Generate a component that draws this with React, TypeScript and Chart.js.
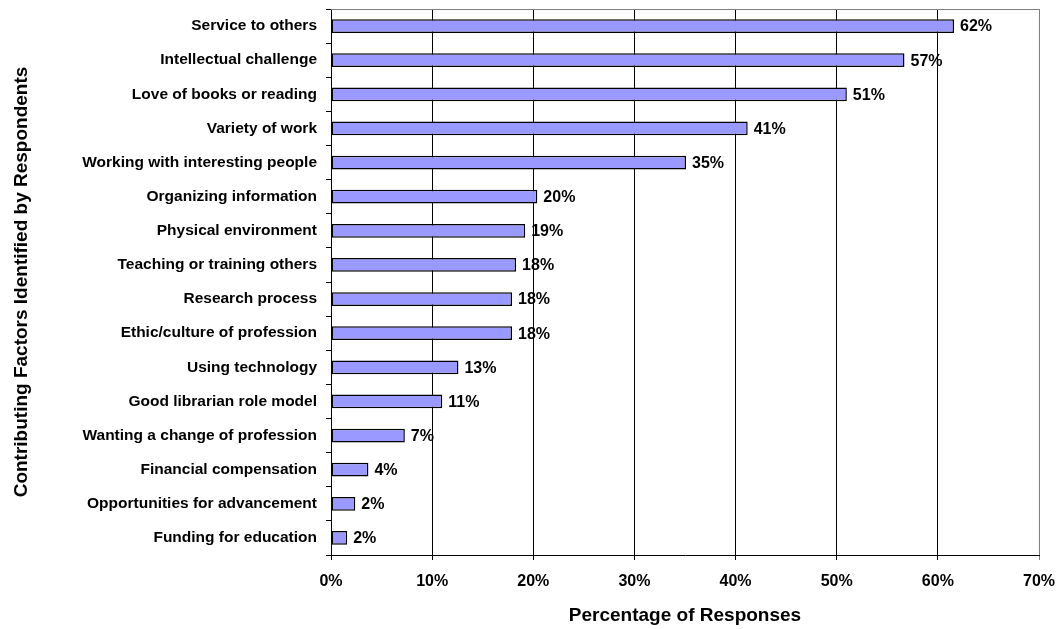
import React, { useEffect, useRef } from "react";
import { Chart, registerables } from "chart.js";

Chart.register(...registerables);

const factors = [
  "Service to others",
  "Intellectual challenge",
  "Love of books or reading",
  "Variety of work",
  "Working with interesting people",
  "Organizing information",
  "Physical environment",
  "Teaching or training others",
  "Research process",
  "Ethic/culture of profession",
  "Using technology",
  "Good librarian role model",
  "Wanting a change of profession",
  "Financial compensation",
  "Opportunities for advancement",
  "Funding for education",
];

const percentages = [61.6, 56.7, 51.0, 41.2, 35.1, 20.4, 19.2, 18.3, 17.9, 17.9, 12.6, 11.0, 7.3, 3.7, 2.4, 1.6];

const valueLabels = ["62%", "57%", "51%", "41%", "35%", "20%", "19%", "18%", "18%", "18%", "13%", "11%", "7%", "4%", "2%", "2%"];

const xMin = 0;
const xMax = 70;
const xStep = 10;

const xAxisTitle = "Percentage of Responses";
const yAxisTitle = "Contributing Factors Identified by Respondents";

const FONT = "'Liberation Sans', Arial, Helvetica, sans-serif";

const decorPlugin = {
  id: "decor",
  beforeDatasetsDraw(chart: any) {
    const { ctx, chartArea } = chart;
    ctx.save();
    ctx.strokeStyle = "#808080";
    ctx.lineWidth = 1;
    ctx.beginPath();
    ctx.moveTo(Math.round(chartArea.left), Math.round(chartArea.top) + 0.5);
    ctx.lineTo(Math.round(chartArea.right), Math.round(chartArea.top) + 0.5);
    ctx.stroke();
    ctx.restore();
  },
  afterDatasetsDraw(chart: any) {
    const { ctx } = chart;
    const meta = chart.getDatasetMeta(0);
    ctx.save();
    ctx.font = `bold 16px ${FONT}`;
    ctx.fillStyle = "#000";
    ctx.textAlign = "left";
    ctx.textBaseline = "middle";
    meta.data.forEach((bar: any, i: number) => {
      ctx.fillText(valueLabels[i], bar.x + 6, bar.y + 1);
    });
    ctx.restore();
  },
};

export default function App() {
  const canvasRef = useRef<HTMLCanvasElement | null>(null);

  useEffect(() => {
    if (!canvasRef.current) return;
    const chart = new Chart(canvasRef.current, {
      type: "bar",
      data: {
        labels: factors,
        datasets: [
          {
            data: percentages,
            backgroundColor: "#9999FF",
            borderColor: "#000000",
            borderWidth: 1.5,
            borderSkipped: false,
            barPercentage: 0.4,
            categoryPercentage: 1,
          },
        ],
      },
      options: {
        indexAxis: "y",
        animation: false,
        responsive: true,
        maintainAspectRatio: false,
        devicePixelRatio: 1,
        layout: { padding: { left: 10, right: 22, top: 9, bottom: 2 } },
        plugins: {
          legend: { display: false },
          tooltip: { enabled: false },
        },
        scales: {
          x: {
            type: "linear",
            min: xMin,
            max: xMax,
            ticks: {
              stepSize: xStep,
              callback: (v: any) => `${v}%`,
              color: "#000",
              font: { family: FONT, size: 16, weight: "bold" },
              padding: 12,
              maxRotation: 0,
            },
            grid: {
              color: (c: any) => (c.tick && c.tick.value === xMax ? "#808080" : "#000"),
              lineWidth: 1,
              drawTicks: true,
              tickLength: 5,
            },
            border: { display: true, color: "#000", width: 1 },
            title: {
              display: true,
              text: xAxisTitle,
              color: "#000",
              font: { family: FONT, size: 19, weight: "bold" },
              padding: { top: 0, bottom: 0 },
            },
            afterFit: (s: any) => {
              s.height = 72;
              s.paddingLeft = 0;
              s.paddingRight = 0;
            },
          },
          y: {
            ticks: {
              color: "#000",
              font: { family: FONT, size: 15.5, weight: "bold" },
              padding: 9,
              autoSkip: false,
            },
            grid: {
              drawOnChartArea: false,
              drawTicks: true,
              tickLength: 5,
              offset: true,
              color: "#000",
            },
            border: { display: true, color: "#000", width: 1 },
            title: {
              display: true,
              text: yAxisTitle,
              color: "#000",
              font: { family: FONT, size: 19, weight: "bold" },
              padding: { top: 0, bottom: 0 },
            },
            afterFit: (s: any) => {
              s.width = 321;
              s.paddingTop = 0;
              s.paddingBottom = 0;
            },
          },
        },
      },
      plugins: [decorPlugin],
    });
    return () => chart.destroy();
  }, []);

  return (
    <div style={{ position: "absolute", left: 0, top: 0, width: 1061, height: 629 }}>
      <canvas ref={canvasRef} />
    </div>
  );
}
